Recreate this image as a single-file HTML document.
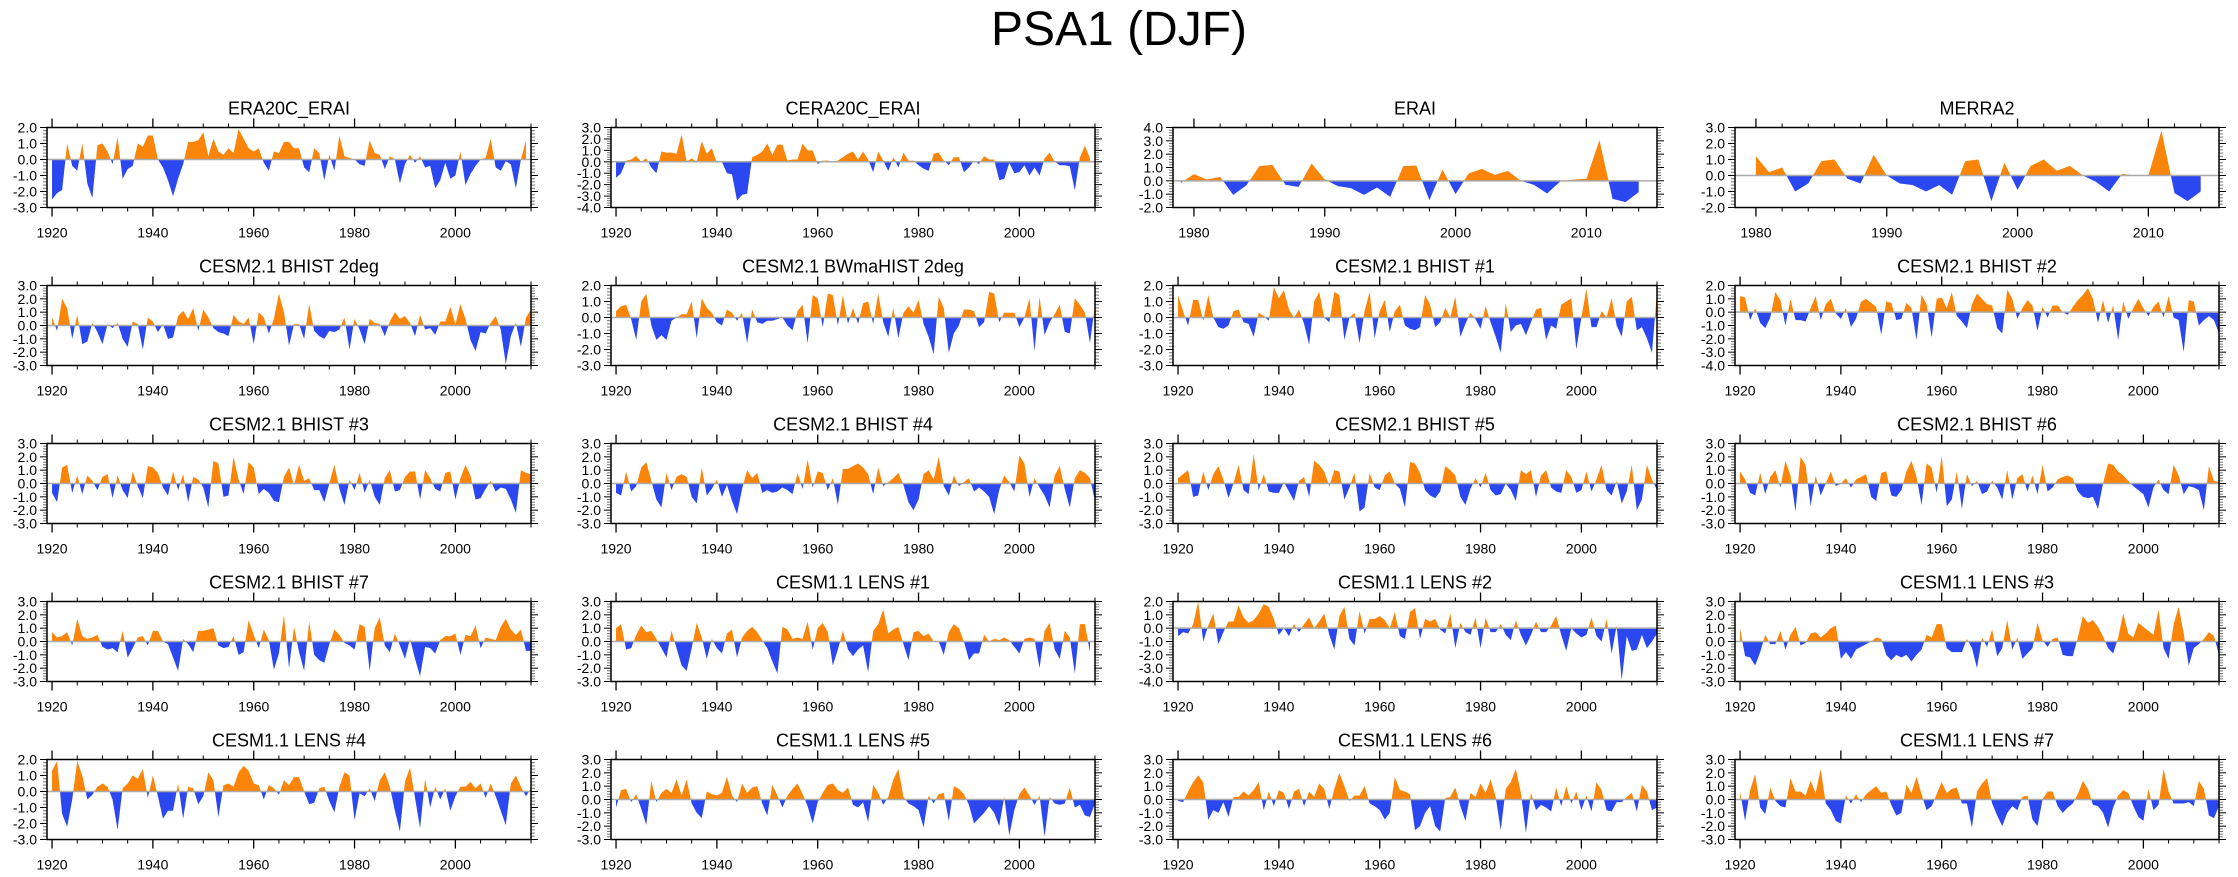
<!DOCTYPE html>
<html><head><meta charset="utf-8"><title>PSA1 (DJF)</title>
<style>
html,body{margin:0;padding:0;background:#fff;}
svg{display:block;font-family:"Liberation Sans",Arial,sans-serif;}
</style></head>
<body>
<svg id="chart" width="2238" height="877" viewBox="0 0 2238 877" xmlns="http://www.w3.org/2000/svg">
<rect width="2238" height="877" fill="#fff"/>
<text x="1119" y="45" font-size="48" text-anchor="middle" fill="#000">PSA1 (DJF)</text>
</svg>
<script>
// ---- data (DJF PSA1 index, one value per year) ----
const titles = ["ERA20C_ERAI","CERA20C_ERAI","ERAI","MERRA2",
"CESM2.1 BHIST 2deg","CESM2.1 BWmaHIST 2deg","CESM2.1 BHIST #1","CESM2.1 BHIST #2",
"CESM2.1 BHIST #3","CESM2.1 BHIST #4","CESM2.1 BHIST #5","CESM2.1 BHIST #6",
"CESM2.1 BHIST #7","CESM1.1 LENS #1","CESM1.1 LENS #2","CESM1.1 LENS #3",
"CESM1.1 LENS #4","CESM1.1 LENS #5","CESM1.1 LENS #6","CESM1.1 LENS #7"];
const startYears = [1920,1920,1979,1980,1920,1920,1920,1920,1920,1920,1920,1920,1920,1920,1920,1920,1920,1920,1920,1920];
const yMins = [-3,-4,-2,-2, -3,-3,-3,-4, -3,-3,-3,-3, -3,-3,-4,-3, -3,-3,-3,-3];
const yMaxs = [2,3,4,3, 3,2,2,2, 3,3,3,3, 3,3,2,3, 2,3,3,3];
const xTickLongLabels = [1920,1940,1960,1980,2000];
const xTickShortLabels = [1980,1990,2000,2010];

const era20c = [-2.5,-2.1,-1.9,1.0,-0.4,-0.7,1.0,-1.5,-2.4,0.9,1.0,0.5,-0.3,1.4,-1.2,-0.6,-0.4,1.0,0.8,1.5,1.5,0.0,-0.5,-1.3,-2.3,-1.2,-0.3,1.1,1.1,1.2,1.7,0.2,1.3,0.5,0.3,0.7,0.4,1.9,1.3,0.7,0.5,0.7,-0.2,-0.7,0.5,0.4,1.1,1.1,0.7,0.7,-0.5,-0.8,0.7,0.4,-1.3,0.3,-0.7,1.5,0.2,0.1,0.0,-0.3,-0.4,1.2,0.4,0.3,-0.6,0.2,0.0,-1.5,-0.3,0.3,-0.2,0.2,-0.5,-0.4,-1.8,-1.3,-0.2,-1.2,-1.0,0.5,-1.6,-0.9,-0.4,0.0,0.1,1.3,-0.5,-0.7,-0.1,-0.3,-1.8,0.0,1.2];
const cera20c = [-1.4,-1.0,0.1,0.2,0.5,0.0,0.3,-0.5,-1.0,0.9,0.8,0.8,0.7,2.4,0.0,0.3,0.0,1.8,0.7,1.2,-0.1,0.0,-1.0,-1.1,-3.4,-2.9,-2.8,0.4,0.6,0.9,1.6,0.6,1.5,1.5,0.1,0.2,0.2,1.6,1.0,1.0,-0.2,0.1,0.1,0.0,0.1,0.4,0.7,0.9,0.2,0.9,0.2,-0.9,0.9,0.1,-0.8,0.4,-0.5,0.8,0.1,0.1,-0.3,-0.6,-0.8,0.7,0.8,0.1,-0.3,0.4,0.4,-0.9,-0.5,0.1,-0.2,0.5,0.2,0.2,-1.6,-1.5,-0.1,-1.0,-0.9,-0.3,-1.2,-0.5,-1.2,0.3,0.8,0.0,-0.3,-0.3,-0.4,-2.5,0.4,1.4,0.3];
const erai = [-0.15,0.5,0.1,0.3,-1.05,-0.35,1.1,1.2,-0.3,-0.45,1.3,0.1,-0.4,-0.55,-1.05,-0.5,-1.2,1.1,1.15,-1.45,0.85,-1.0,0.55,0.9,0.45,0.75,0.0,-0.3,-0.95,-0.05,0.1,0.15,3.05,-1.35,-1.6,-0.85];
const merra2 = [1.2,0.2,0.5,-1.0,-0.5,0.9,1.0,-0.2,-0.5,1.3,0.0,-0.5,-0.6,-1.0,-0.6,-1.2,0.9,1.0,-1.6,0.8,-0.9,0.6,1.0,0.3,0.6,0.0,-0.4,-1.0,0.1,0.0,0.0,2.8,-1.1,-1.6,-1.0];
const bhist2deg = [0.6,-0.4,2.0,1.3,-1.0,0.8,-1.4,-1.2,0.2,-0.5,-1.4,0.1,-0.2,0.2,-1.0,-1.6,0.3,0.1,-1.8,0.6,0.3,-0.5,0.1,-1.0,-0.9,0.7,1.1,0.5,1.3,-0.4,1.2,0.6,-0.2,-0.5,-0.6,-0.8,0.8,0.3,0.1,0.6,-1.4,1.0,0.6,-0.6,0.5,2.4,1.0,-1.5,0.1,0.1,-1.0,1.6,-0.4,-0.8,-1.0,-0.4,-0.5,-0.3,0.6,-1.8,0.5,-0.3,-1.4,0.5,0.2,0.1,-0.8,0.3,1.0,0.5,0.7,0.2,-0.8,0.8,-0.3,-0.2,-0.7,0.3,0.3,1.4,0.1,1.6,0.5,-1.1,-1.9,-0.5,-0.6,0.2,0.7,-0.3,-2.9,-0.8,0.2,-1.6,0.6,1.2];
const bwmahist2deg = [0.4,0.7,0.8,-0.1,-1.4,1.0,1.5,-0.5,-1.4,-1.1,-1.4,-0.2,0.0,0.2,0.2,1.0,-1.3,1.2,0.6,0.3,-0.3,-0.5,0.5,0.3,-0.2,0.3,-1.6,0.5,-0.3,-0.4,-0.2,-0.2,-0.1,0.0,-0.5,-0.8,0.4,0.8,-1.6,1.4,1.2,-0.6,1.5,1.4,-0.5,1.4,-0.4,0.6,-0.4,0.9,1.0,-0.4,1.5,-0.3,-1.2,0.6,-1.3,0.3,0.7,0.3,1.1,-0.4,-1.2,-2.3,1.3,0.6,-2.2,-1.0,-0.5,0.5,0.5,0.4,-0.6,-0.3,1.6,1.5,-0.3,0.3,0.3,0.3,-0.6,0.0,1.2,-2.1,1.3,-1.1,-0.3,0.2,0.8,-0.9,-1.0,1.2,0.8,0.3,-1.6,0.8];
const bhist1 = [1.4,0.4,-0.5,1.1,1.1,-0.2,1.4,0.0,-0.6,-0.7,-0.5,0.4,0.5,-0.3,-0.4,-1.2,0.3,0.1,-0.2,1.9,1.2,1.7,0.5,0.0,0.5,-0.4,-1.7,1.0,1.6,0.0,-0.3,1.6,1.4,-1.4,0.0,0.3,-1.6,0.4,1.6,-1.3,0.4,1.1,-0.9,0.4,0.8,-0.5,-0.7,-0.8,-0.6,1.4,0.8,-0.6,-0.3,0.6,0.0,1.3,-1.2,-0.4,0.3,-0.1,-0.7,0.7,-0.3,-1.2,-2.2,0.9,-0.9,-0.5,-0.4,-1.1,-0.3,0.5,0.6,-1.4,-0.5,-0.7,0.8,1.0,1.2,-2.0,0.0,1.8,-0.6,-0.6,0.4,0.0,1.2,-0.5,-1.2,1.0,1.3,-0.8,-0.6,-1.3,-2.2,1.6];
const bhist2 = [1.2,1.1,-0.6,0.3,-0.8,-1.2,-0.4,1.5,0.9,-1.0,1.0,-0.6,-0.6,-0.7,0.3,1.2,-0.6,0.6,1.0,-0.1,-0.5,0.3,-1.1,-0.5,0.8,1.0,0.7,0.4,-1.7,0.8,0.7,-0.6,-0.5,0.7,0.3,-2.1,1.3,0.6,-1.9,1.0,1.1,0.3,1.5,-0.3,-0.7,-1.2,0.6,1.4,1.0,0.6,0.5,-1.2,-1.6,1.7,1.0,-0.5,0.3,0.9,0.5,-1.4,0.4,-0.4,0.5,0.5,0.0,-0.2,0.4,0.9,1.3,1.8,1.0,-0.8,0.9,-0.8,0.5,-2.1,0.8,-0.5,0.3,1.0,0.3,-0.3,0.4,0.8,-0.4,1.2,-0.4,-0.6,-3.0,0.9,0.8,-1.0,-0.6,-0.3,-0.6,-1.6];
const bhist3 = [-0.7,-1.4,1.2,1.4,-0.7,0.6,-0.8,0.6,0.2,-0.5,0.5,0.7,-1.1,0.6,-0.5,-1.1,0.9,-0.2,-1.1,1.3,1.2,0.8,-0.3,-0.9,0.9,-0.5,0.7,-1.4,0.5,0.3,-0.3,-1.8,1.7,1.5,-1.0,-0.9,2.0,0.3,-0.8,1.6,1.2,-0.8,-0.4,-0.7,-1.3,-1.4,0.5,1.2,-0.1,1.4,0.2,0.4,-0.5,-0.5,-1.4,0.0,1.4,-0.4,-1.6,0.3,-0.5,0.8,-0.7,0.3,-1.0,-1.6,0.4,1.0,-0.6,-0.5,0.5,0.9,0.9,-1.2,1.0,0.4,-0.4,-0.6,0.8,0.9,-1.2,0.4,1.4,0.6,-1.2,-1.1,-0.4,0.2,-0.6,-0.3,-0.4,-1.2,-2.2,1.0,0.8,0.7];
const bhist4 = [-0.7,-0.9,0.9,-0.6,-0.2,1.2,1.6,0.2,-1.2,-1.8,0.8,-0.5,0.5,0.7,0.5,-1.0,-1.5,1.2,-0.9,-0.4,0.3,-1.0,-0.1,-1.3,-2.3,-0.4,1.0,0.4,0.8,-0.7,-0.5,-0.7,-0.6,-0.3,-0.5,-0.8,0.8,-0.4,1.8,-0.3,0.9,0.8,-0.5,0.4,-1.6,1.1,1.1,1.3,1.5,1.2,0.7,-0.8,1.2,-0.2,0.1,0.4,0.8,-0.1,-1.4,-2.0,-1.2,0.7,1.0,0.3,2.0,-0.2,-0.9,0.6,-0.2,0.1,0.4,-0.6,-0.3,-0.6,-1.0,-2.3,-0.5,0.6,0.1,-0.6,2.1,1.5,-1.0,0.4,-0.3,-0.9,-1.8,0.6,1.3,-0.4,-1.8,0.4,1.0,0.8,0.4,-1.3];
const bhist5 = [0.4,0.7,1.0,-1.0,-0.9,0.9,-0.5,0.7,1.3,0.3,-1.1,0.0,1.4,-0.5,-0.8,2.2,-0.5,0.7,-0.6,-0.7,-0.7,0.1,-0.6,-1.3,0.2,0.5,-1.0,1.7,1.4,0.9,-0.2,1.0,0.9,-1.2,-0.3,0.8,-2.1,-1.8,0.8,-0.3,-0.5,0.6,0.9,0.0,-0.4,-1.8,1.6,1.5,0.8,-0.5,-0.9,-1.1,-0.6,1.3,1.0,0.6,-1.0,-1.6,-0.4,0.4,-0.3,0.8,-0.5,-0.9,-0.8,0.0,-0.5,-1.3,1.0,0.7,1.0,-1.0,0.6,1.0,-0.3,-0.6,-0.7,1.0,0.5,-0.7,-0.5,0.9,-0.6,0.3,1.4,-0.5,-0.9,0.2,-1.5,-0.6,1.4,-2.0,-1.2,1.4,0.3,-0.5];
const bhist6 = [0.9,0.3,-0.7,-0.9,0.8,-0.8,0.5,1.0,-0.3,1.7,0.6,-2.1,2.0,1.4,-1.7,0.6,-0.9,0.0,0.9,-0.2,0.0,0.4,-0.3,0.3,0.5,0.7,-1.0,-1.3,0.8,0.9,-0.9,-1.0,-0.5,0.9,1.7,0.5,-1.6,1.5,1.2,-0.7,2.1,-1.7,-1.2,0.9,-1.9,0.7,-0.2,0.2,-0.8,-0.6,0.2,-0.3,-1.2,1.0,-1.2,0.4,0.7,-0.6,0.6,-0.8,1.4,-0.6,-0.3,0.3,0.5,0.6,0.4,-0.6,-1.0,-1.1,-1.0,-1.9,0.0,1.5,1.4,0.9,0.6,0.2,-0.2,-0.5,-0.8,-1.8,-0.3,0.3,-0.5,-0.8,1.4,0.6,-0.8,-0.2,-0.3,-0.5,-2.0,1.3,0.2,0.1];
const bhist7 = [0.7,0.3,0.4,0.7,-0.3,1.7,0.4,0.2,0.3,0.5,-0.4,-0.6,-0.5,-0.8,0.8,-1.2,-0.5,0.3,0.4,-0.3,0.8,0.8,0.0,-0.2,-1.2,-2.2,0.2,-0.2,-0.8,0.8,0.8,0.9,1.0,-0.3,-0.5,-0.4,0.4,-1.0,-0.8,1.6,0.5,-0.5,0.9,0.1,-2.1,-0.9,2.0,-2.0,1.1,-0.8,-2.2,1.5,-1.0,-1.4,-1.6,-0.2,0.9,0.5,-0.1,-0.3,-0.6,1.3,1.1,-2.2,1.0,1.8,-0.3,-0.8,0.6,-0.3,-1.3,0.2,-1.3,-2.6,-0.4,-0.5,-0.9,0.1,0.4,0.4,0.6,-1.0,0.5,0.4,1.2,-0.5,0.3,0.2,0.1,1.1,1.7,0.9,0.5,0.9,-0.7,-0.7,1.3];
const lens1 = [1.0,1.3,-0.6,-0.5,0.5,1.2,0.7,0.8,0.2,-0.5,-1.2,0.8,-0.5,-1.8,-2.2,-0.5,1.4,0.3,-1.3,0.2,-0.5,-0.9,0.6,0.9,-1.2,0.3,0.8,1.1,0.7,0.1,-0.5,-1.5,-2.4,1.1,0.9,0.2,0.3,0.2,1.5,-0.6,1.0,1.4,0.7,-1.8,-0.6,0.8,-0.6,-1.1,-0.6,-0.3,-2.3,0.8,1.3,2.4,0.6,0.9,1.1,-0.2,-1.4,0.7,0.8,0.4,0.6,0.0,0.0,-1.0,0.7,1.3,1.0,0.0,-1.4,-0.9,-0.9,0.5,0.0,0.2,0.1,0.3,0.1,-0.4,-0.9,0.2,0.3,0.2,-2.0,0.8,1.4,-0.6,-1.3,0.8,0.3,-2.4,1.3,1.3,-0.8];
const lens2 = [-0.6,-0.3,-0.4,0.3,2.0,-1.0,0.2,1.1,-1.2,-0.3,0.5,0.5,1.7,0.8,0.4,0.6,1.1,1.8,1.6,0.7,-0.5,0.0,-0.6,0.3,-0.3,0.3,0.8,0.0,0.5,1.1,-0.5,-1.6,0.9,1.6,-0.8,-1.3,1.3,-0.4,0.7,0.7,0.9,0.6,0.0,1.2,-0.6,-0.8,1.2,1.5,-0.8,0.7,0.5,0.7,-0.1,-0.4,1.1,-1.5,0.4,-0.3,-0.5,0.8,-1.5,0.8,-0.3,-0.3,0.3,-0.5,-0.9,0.6,-0.5,-1.3,-0.5,0.5,-0.3,-0.3,0.2,0.9,-0.5,-1.7,0.0,-0.4,-0.7,-0.5,0.8,-0.6,-1.0,0.7,-1.9,0.2,-3.9,-0.6,-1.7,-1.6,-0.5,-1.5,-1.0,-0.4];
const lens3 = [1.0,-1.1,-1.2,-1.8,-0.8,0.5,-0.2,-0.2,0.8,-0.6,0.5,1.1,-0.3,-0.1,0.6,0.7,0.3,0.6,1.0,1.2,-1.3,-0.8,-1.3,-0.6,-0.4,-0.2,0.0,0.3,0.2,-1.0,-1.4,-1.0,-1.2,-1.0,-1.5,-1.0,-0.6,0.5,0.3,1.3,1.3,-0.5,-0.8,-0.8,-0.8,0.2,-0.5,-2.0,0.3,-0.4,0.9,-1.1,-0.5,1.6,-0.6,0.3,-1.3,-0.9,-0.5,1.4,0.1,-0.4,0.2,0.3,-1.0,-1.1,-1.1,0.3,1.9,1.4,1.6,1.1,0.4,-0.5,-0.9,0.3,2.1,0.6,0.3,1.4,1.1,0.8,0.5,2.4,-0.5,-1.3,1.3,2.6,0.6,-1.8,-0.5,-0.2,0.2,0.7,0.4,-1.0];
const lens4 = [1.3,1.9,-1.4,-2.2,-0.5,1.9,1.0,-0.5,-0.2,0.3,0.5,0.3,-0.5,-2.4,0.2,0.5,1.0,0.8,1.4,-0.4,1.0,-0.3,-1.7,-1.2,-1.2,0.5,-1.7,0.3,0.2,-0.8,-0.3,1.2,0.7,-1.6,0.4,0.5,0.3,1.2,1.6,1.3,0.5,0.4,-0.5,0.4,0.2,-0.2,0.7,0.4,0.9,0.9,0.0,-0.8,-0.7,0.2,0.3,-0.6,-1.3,0.3,1.2,1.0,-1.8,-0.1,-0.3,0.2,-0.6,0.7,1.2,0.3,-1.2,-2.5,0.6,1.5,-0.4,-2.3,0.8,-1.0,0.3,-0.5,0.2,-1.2,-0.3,0.3,0.3,0.6,0.2,0.5,-0.4,0.5,-0.3,-1.2,-2.1,0.5,1.0,0.3,-0.3,0.2];
const lens5 = [-0.6,0.7,0.8,-0.2,0.4,-0.7,-1.9,1.4,-0.2,0.5,0.8,0.5,1.5,0.3,1.5,-0.3,-1.0,-1.4,0.6,0.4,0.3,0.5,1.7,0.3,-0.2,1.2,0.5,0.9,1.0,-0.3,-1.2,1.1,0.3,-0.6,0.3,0.8,1.2,0.4,-0.5,-1.8,-0.2,0.5,1.1,1.2,0.7,0.5,0.9,-0.4,-0.6,-0.2,-1.7,1.1,0.5,-0.4,0.2,1.5,2.3,0.2,-0.3,-0.5,-0.8,-2.1,0.3,-0.3,0.4,0.5,-1.6,1.0,0.8,0.4,-0.4,-1.8,-1.4,-1.0,-0.5,-1.0,-2.0,0.2,-2.7,-0.8,0.4,0.9,0.3,-0.4,0.3,-2.8,0.2,-0.3,-0.4,-0.3,0.9,-0.6,-0.4,-1.2,-1.3,-0.3];
const lens6 = [-0.1,-0.2,0.6,1.3,1.8,1.3,-1.5,-0.8,-1.0,-0.2,-1.3,0.2,0.2,0.6,0.3,0.7,1.3,-0.8,0.6,-0.5,0.7,0.5,-0.7,0.6,0.8,-0.5,0.6,0.2,1.2,0.8,-0.7,0.8,2.0,1.0,-0.1,0.3,0.3,1.0,-0.3,-0.5,-0.8,-1.5,-1.0,1.7,0.7,0.6,0.4,-2.3,-2.0,-1.0,-0.5,-2.0,-2.4,0.1,0.2,0.9,-0.5,-1.6,0.5,0.2,1.2,0.5,1.5,0.2,-2.3,0.8,1.3,2.3,0.5,-2.5,0.5,-0.8,-0.4,-0.6,-0.9,0.9,-0.5,1.0,-0.3,0.6,-0.8,0.3,-0.9,1.3,0.7,-0.8,-0.9,-0.2,-0.2,0.2,0.5,-0.9,1.1,0.6,-0.8,-0.6];
const lens7 = [0.6,-1.6,0.7,1.9,-0.6,-1.1,0.9,-0.1,-0.5,-0.6,1.6,0.6,0.6,0.3,1.4,0.5,2.3,-0.3,-0.8,-1.6,-1.8,0.3,-0.3,0.4,-0.2,0.4,0.7,1.0,0.5,0.6,-0.4,-1.2,-1.0,1.1,0.5,1.7,0.4,-0.8,-0.5,0.4,1.3,0.5,0.8,0.9,-0.3,-0.3,-2.1,0.6,1.2,1.6,-0.3,-1.2,-2.0,-1.0,-0.5,-0.8,0.2,0.3,-1.5,-2.0,0.0,0.6,0.6,-0.5,-1.0,-0.6,-0.3,0.4,1.4,0.8,-0.4,-0.5,-1.0,-2.1,-0.6,0.3,0.7,0.5,-0.5,-1.3,-1.6,0.8,-0.8,-0.4,2.3,0.6,-0.3,-0.3,-0.3,-0.2,-0.5,1.4,0.8,-1.2,-1.4,-0.5];

const series = [era20c,cera20c,erai,merra2,bhist2deg,bwmahist2deg,bhist1,bhist2,bhist3,bhist4,bhist5,bhist6,bhist7,lens1,lens2,lens3,lens4,lens5,lens6,lens7];

// ---- layout ----
const NS = "http://www.w3.org/2000/svg";
const svg = document.getElementById('chart');
const colLeft = [47, 611, 1173, 1735];
const rowTop0 = 127.5, rowPitch = 158, boxW = 484, boxH = 80;
const ORANGE = "#fb8508", BLUE = "#2b47ef";

function mk(tag, attrs, parent) {
  const e = document.createElementNS(NS, tag);
  for (const k in attrs) e.setAttribute(k, attrs[k]);
  (parent || svg).appendChild(e);
  return e;
}

series.forEach((vals, p) => {
  const r = Math.floor(p / 4), c = p % 4;
  const L = colLeft[c], T = rowTop0 + r * rowPitch, R = L + boxW, B = T + boxH;
  const shortAxis = startYears[p] > 1970;
  const xMin = shortAxis ? 1978.4 : 1919, xMax = shortAxis ? 2015.4 : 2015;
  const yMin = yMins[p], yMax = yMaxs[p];
  const xs = y => L + (y - xMin) / (xMax - xMin) * boxW;
  const ys = v => B - (v - yMin) / (yMax - yMin) * boxH;

  const g = mk('g', {});
  
  

  const t = mk('text', {x: (L + R) / 2, y: T - 13, 'font-size': 18, 'text-anchor': 'middle', fill: '#000'}, g);
  t.textContent = titles[p];
  
  

  // clip paths
  const cidP = 'cp' + p, cidN = 'cn' + p;
  const z = ys(0);
  const cpP = mk('clipPath', {id: cidP}, g); mk('rect', {x: L, y: T, width: boxW, height: z - T}, cpP);
  const cpN = mk('clipPath', {id: cidN}, g); mk('rect', {x: L, y: z, width: boxW, height: B - z}, cpN);

  let d = 'M' + xs(startYears[p]).toFixed(2) + ',' + z.toFixed(2);
  vals.forEach((v, i) => { d += 'L' + xs(startYears[p] + i).toFixed(2) + ',' + ys(v).toFixed(2); });
  d += 'L' + xs(startYears[p] + vals.length - 1).toFixed(2) + ',' + z.toFixed(2) + 'Z';
  const pos = mk('path', {d: d, fill: ORANGE, 'clip-path': 'url(#' + cidP + ')'}, g);
  
  
  const neg = mk('path', {d: d, fill: BLUE, 'clip-path': 'url(#' + cidN + ')'}, g);
  
  

  const zl = mk('line', {x1: L, x2: R, y1: z, y2: z, stroke: '#aaa', 'stroke-width': 1.5}, g);
  
  

  // y ticks
  for (let k = Math.round(yMin * 5); k <= Math.round(yMax * 5); k++) {
    const v = k / 5, yy = ys(v), major = (k % 5 === 0), len = major ? 7 : 4;
    const col = major ? '#000' : '#777';
    mk('line', {x1: L - len, x2: L, y1: yy, y2: yy, stroke: col, 'stroke-width': 1}, g);
    mk('line', {x1: R, x2: R + len, y1: yy, y2: yy, stroke: col, 'stroke-width': 1}, g);
    if (major) {
      const lab = mk('text', {x: L - 10, y: yy + 5, 'font-size': 14, 'text-anchor': 'end', fill: '#000'}, g);
      lab.textContent = v.toFixed(1);
      
      
    }
  }
  // x ticks
  const minorStep = shortAxis ? 2 : 5;
  const majorList = shortAxis ? xTickShortLabels : xTickLongLabels;
  for (let yr = Math.ceil(xMin / minorStep) * minorStep; yr <= xMax; yr += minorStep) {
    const xx = xs(yr), major = majorList.indexOf(yr) >= 0, len = major ? 9 : 4;
    mk('line', {x1: xx, x2: xx, y1: T - len, y2: T, stroke: '#000', 'stroke-width': major ? 1.3 : 1}, g);
    mk('line', {x1: xx, x2: xx, y1: B, y2: B + len, stroke: '#000', 'stroke-width': major ? 1.3 : 1}, g);
    if (major) {
      const lab = mk('text', {x: xx, y: B + 30, 'font-size': 14, 'text-anchor': 'middle', fill: '#000'}, g);
      lab.textContent = String(yr);
      
      
    }
  }
  const box = mk('rect', {x: L, y: T, width: boxW, height: boxH, fill: 'none', stroke: '#000', 'stroke-width': 1.5}, g);
  
  
});
</script>
</body></html>
